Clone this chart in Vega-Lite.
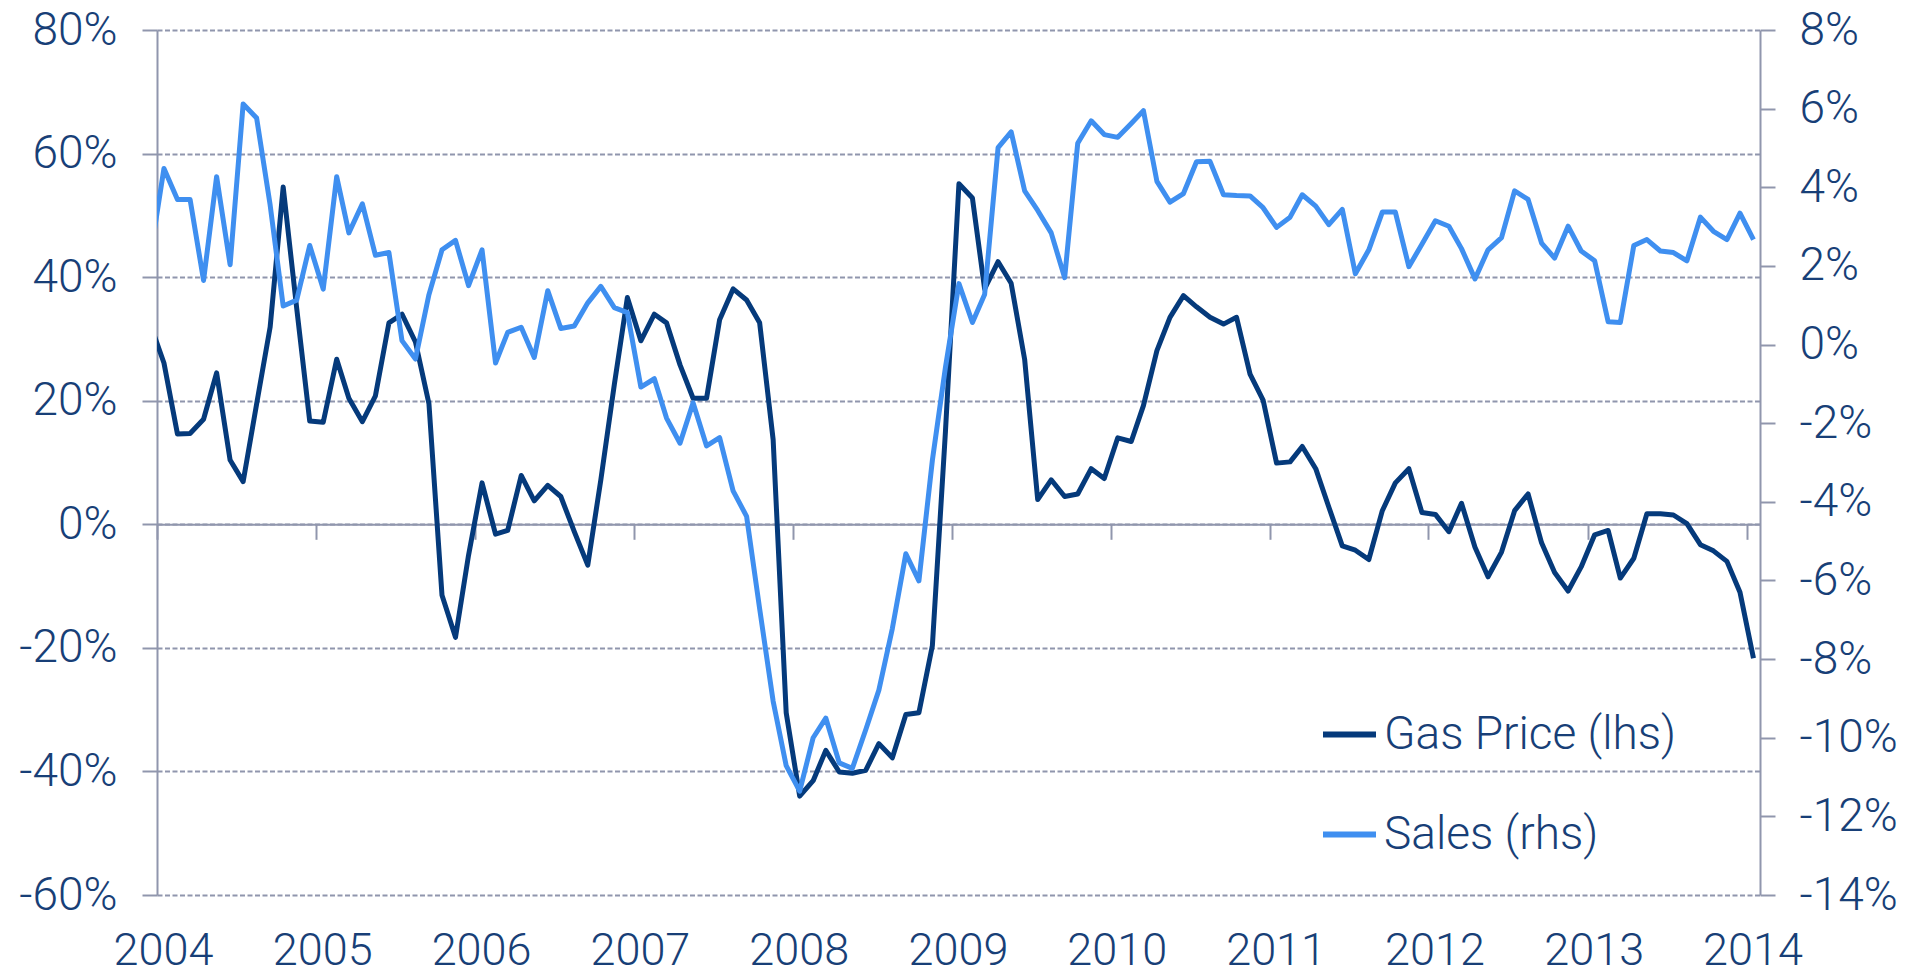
{
"$schema": "https://vega.github.io/schema/vega-lite/v6.json",
"width": 1603, "height": 865,
"autosize": {"type": "none"},
"padding": {"left": 157, "top": 30, "right": 159, "bottom": 81},
"background": "white",
"config": {"view": {"stroke": null}, "font": "Roboto"},
"data": {"values": [
{"d":"2003-12-17","g":32.3,"s":2.27},
{"d":"2004-01-17","g":26.1,"s":4.48},{"d":"2004-02-17","g":14.6,"s":3.69},{"d":"2004-03-17","g":14.7,"s":3.69},{"d":"2004-04-17","g":17.0,"s":1.63},{"d":"2004-05-17","g":24.5,"s":4.27},{"d":"2004-06-17","g":10.4,"s":2.03},{"d":"2004-07-17","g":6.9,"s":6.12},{"d":"2004-08-17","g":19.5,"s":5.76},{"d":"2004-09-17","g":31.9,"s":3.55},{"d":"2004-10-17","g":54.6,"s":0.98},{"d":"2004-11-17","g":35.0,"s":1.13},{"d":"2004-12-17","g":16.7,"s":2.52},
{"d":"2005-01-17","g":16.5,"s":1.41},{"d":"2005-02-17","g":26.7,"s":4.27},{"d":"2005-03-17","g":20.4,"s":2.84},{"d":"2005-04-17","g":16.6,"s":3.58},{"d":"2005-05-17","g":20.8,"s":2.27},{"d":"2005-06-17","g":32.6,"s":2.34},{"d":"2005-07-17","g":34.0,"s":0.10},{"d":"2005-08-17","g":29.5,"s":-0.37},{"d":"2005-09-17","g":19.5,"s":1.27},{"d":"2005-10-17","g":-11.5,"s":2.41},{"d":"2005-11-17","g":-18.3,"s":2.65},{"d":"2005-12-17","g":-5.0,"s":1.50},
{"d":"2006-01-17","g":6.7,"s":2.41},{"d":"2006-02-17","g":-1.6,"s":-0.47},{"d":"2006-03-17","g":-1.0,"s":0.31},{"d":"2006-04-17","g":7.9,"s":0.44},{"d":"2006-05-17","g":3.8,"s":-0.33},{"d":"2006-06-17","g":6.3,"s":1.37},{"d":"2006-07-17","g":4.5,"s":0.41},{"d":"2006-08-17","g":-1.2,"s":0.47},{"d":"2006-09-17","g":-6.6,"s":1.06},{"d":"2006-10-17","g":7.2,"s":1.48},{"d":"2006-11-17","g":22.6,"s":0.94},{"d":"2006-12-17","g":36.7,"s":0.81},
{"d":"2007-01-17","g":29.7,"s":-1.08},{"d":"2007-02-17","g":34.0,"s":-0.87},{"d":"2007-03-17","g":32.6,"s":-1.87},{"d":"2007-04-17","g":25.8,"s":-2.51},{"d":"2007-05-17","g":20.4,"s":-1.48},{"d":"2007-06-17","g":20.4,"s":-2.58},{"d":"2007-07-17","g":33.1,"s":-2.37},{"d":"2007-08-17","g":38.1,"s":-3.72},{"d":"2007-09-17","g":36.3,"s":-4.37},{"d":"2007-10-17","g":32.6,"s":-6.72},{"d":"2007-11-17","g":13.7,"s":-9.07},{"d":"2007-12-17","g":-30.5,"s":-10.71},
{"d":"2008-01-17","g":-44.0,"s":-11.36},{"d":"2008-02-17","g":-41.5,"s":-10.0},{"d":"2008-03-17","g":-36.6,"s":-9.50},{"d":"2008-04-17","g":-40.1,"s":-10.64},{"d":"2008-05-17","g":-40.3,"s":-10.78},{"d":"2008-06-17","g":-39.8,"s":-9.79},{"d":"2008-07-17","g":-35.5,"s":-8.79},{"d":"2008-08-17","g":-37.8,"s":-7.22},{"d":"2008-09-17","g":-30.8,"s":-5.32},{"d":"2008-10-17","g":-30.5,"s":-6.01},{"d":"2008-11-17","g":-19.6,"s":-2.94},{"d":"2008-12-17","g":15.0,"s":-0.58},
{"d":"2009-01-17","g":55.1,"s":1.55},{"d":"2009-02-17","g":52.8,"s":0.56},{"d":"2009-03-17","g":38.1,"s":1.27},{"d":"2009-04-17","g":42.5,"s":5.01},{"d":"2009-05-17","g":39.0,"s":5.41},{"d":"2009-06-17","g":26.7,"s":3.91},{"d":"2009-07-17","g":4.0,"s":3.41},{"d":"2009-08-17","g":7.2,"s":2.84},{"d":"2009-09-17","g":4.5,"s":1.70},{"d":"2009-10-17","g":4.9,"s":5.12},{"d":"2009-11-17","g":9.0,"s":5.69},{"d":"2009-12-17","g":7.4,"s":5.34},
{"d":"2010-01-17","g":14.0,"s":5.27},{"d":"2010-02-17","g":13.4,"s":5.62},{"d":"2010-03-17","g":19.2,"s":5.95},{"d":"2010-04-17","g":28.1,"s":4.15},{"d":"2010-05-17","g":33.5,"s":3.62},{"d":"2010-06-17","g":37.0,"s":3.84},{"d":"2010-07-17","g":35.2,"s":4.65},{"d":"2010-08-17","g":33.5,"s":4.66},{"d":"2010-09-17","g":32.4,"s":3.81},{"d":"2010-10-17","g":33.5,"s":3.79},{"d":"2010-11-17","g":24.3,"s":3.78},{"d":"2010-12-17","g":20.1,"s":3.48},
{"d":"2011-01-17","g":9.9,"s":2.98},{"d":"2011-02-17","g":10.1,"s":3.24},{"d":"2011-03-17","g":12.6,"s":3.81},{"d":"2011-04-17","g":9.0,"s":3.52},{"d":"2011-05-17","g":2.8,"s":3.05},{"d":"2011-06-17","g":-3.5,"s":3.44},{"d":"2011-07-17","g":-4.2,"s":1.80},{"d":"2011-08-17","g":-5.7,"s":2.41},{"d":"2011-09-17","g":2.2,"s":3.37},{"d":"2011-10-17","g":6.7,"s":3.37},{"d":"2011-11-17","g":9.0,"s":1.98},{"d":"2011-12-17","g":1.9,"s":2.55},
{"d":"2012-01-17","g":1.6,"s":3.15},{"d":"2012-02-17","g":-1.2,"s":3.01},{"d":"2012-03-17","g":3.4,"s":2.44},{"d":"2012-04-17","g":-3.7,"s":1.67},{"d":"2012-05-17","g":-8.5,"s":2.41},{"d":"2012-06-17","g":-4.5,"s":2.72},{"d":"2012-07-17","g":2.2,"s":3.91},{"d":"2012-08-17","g":4.9,"s":3.69},{"d":"2012-09-17","g":-3.0,"s":2.58},{"d":"2012-10-17","g":-7.8,"s":2.20},{"d":"2012-11-17","g":-10.8,"s":3.01},{"d":"2012-12-17","g":-6.9,"s":2.38},
{"d":"2013-01-17","g":-1.7,"s":2.13},{"d":"2013-02-17","g":-1.0,"s":0.58},{"d":"2013-03-17","g":-8.7,"s":0.56},{"d":"2013-04-17","g":-5.5,"s":2.52},{"d":"2013-05-17","g":1.7,"s":2.67},{"d":"2013-06-17","g":1.7,"s":2.38},{"d":"2013-07-17","g":1.5,"s":2.34},{"d":"2013-08-17","g":0.1,"s":2.13},{"d":"2013-09-17","g":-3.3,"s":3.24},{"d":"2013-10-17","g":-4.3,"s":2.88},{"d":"2013-11-17","g":-6.0,"s":2.67},{"d":"2013-12-17","g":-11.0,"s":3.34},
{"d":"2014-01-17","g":-21.7,"s":2.67}
]},
"layer": [
{
"mark": {"type": "line", "clip": true, "strokeWidth": 5, "strokeJoin": "round"},
"encoding": {
"x": {"field": "d", "type": "temporal",
 "scale": {"type": "utc", "domain": [{"year": 2004, "month": 1, "date": 1, "utc": true}, {"year": 2014, "month": 2, "date": 1, "utc": true}]},
 "axis": {"orient": "bottom", "offset": -370.7, "title": null, "grid": false,
  "values": [{"year":2004,"month":1,"date":1,"utc":true},{"year":2005,"month":1,"date":1,"utc":true},{"year":2006,"month":1,"date":1,"utc":true},{"year":2007,"month":1,"date":1,"utc":true},{"year":2008,"month":1,"date":1,"utc":true},{"year":2009,"month":1,"date":1,"utc":true},{"year":2010,"month":1,"date":1,"utc":true},{"year":2011,"month":1,"date":1,"utc":true},{"year":2012,"month":1,"date":1,"utc":true},{"year":2013,"month":1,"date":1,"utc":true},{"year":2014,"month":1,"date":1,"utc":true}],
  "format": "%Y", "formatType": "utc",
  "domainColor": "#9096ad", "domainWidth": 2, "tickColor": "#9096ad", "tickWidth": 2, "tickSize": 15,
  "labelPadding": 389, "labelOffset": 6, "labelFontSize": 45, "labelFont": "Roboto", "labelFontWeight": 300, "labelColor": "#183f77", "labelFlush": false, "labelOverlap": false}},
"y": {"field": "g", "type": "quantitative",
 "scale": {"domain": [-60, 80], "nice": false, "zero": false},
 "axis": {"orient": "left", "title": null, "values": [-60, -40, -20, 0, 20, 40, 60, 80],
  "labelExpr": "datum.value + '%'",
  "grid": true, "gridColor": "#9096ad", "gridDash": [5, 2.5], "gridWidth": 2,
  "domainColor": "#9096ad", "domainWidth": 2, "tickColor": "#9096ad", "tickWidth": 2, "tickSize": 15,
  "labelPadding": 25, "labelFontSize": 46, "labelFont": "Roboto", "labelFontWeight": 300, "labelColor": "#183f77"}},
"color": {"datum": "Gas Price (lhs)", "type": "nominal",
 "scale": {"domain": ["Gas Price (lhs)", "Sales (rhs)"], "range": ["#053a7b", "#3f8ff0"]},
 "legend": {"orient": "none", "legendX": 1163, "legendY": 675, "title": null, "direction": "vertical",
  "symbolType": "stroke", "symbolSize": 2809, "symbolStrokeWidth": 6, "rowPadding": 47, "labelOffset": 5, "padding": 0,
  "labelFontSize": 46, "labelFont": "Roboto", "labelFontWeight": 300, "labelColor": "#183f77", "labelLimit": 0}}
}
},
{
"mark": {"type": "line", "clip": true, "strokeWidth": 5, "strokeJoin": "round"},
"encoding": {
"x": {"field": "d", "type": "temporal"},
"y": {"field": "s", "type": "quantitative",
 "scale": {"domain": [-14, 8], "nice": false, "zero": false},
 "axis": {"orient": "right", "title": null, "values": [-14, -12, -10, -8, -6, -4, -2, 0, 2, 4, 6, 8],
  "labelExpr": "datum.value + '%'", "grid": false,
  "domainColor": "#9096ad", "domainWidth": 2, "tickColor": "#9096ad", "tickWidth": 2, "tickSize": 15,
  "labelPadding": 24, "labelFontSize": 46, "labelFont": "Roboto", "labelFontWeight": 300, "labelColor": "#183f77"}},
"color": {"datum": "Sales (rhs)", "type": "nominal"}
}
}
],
"resolve": {"scale": {"y": "independent"}}
}
